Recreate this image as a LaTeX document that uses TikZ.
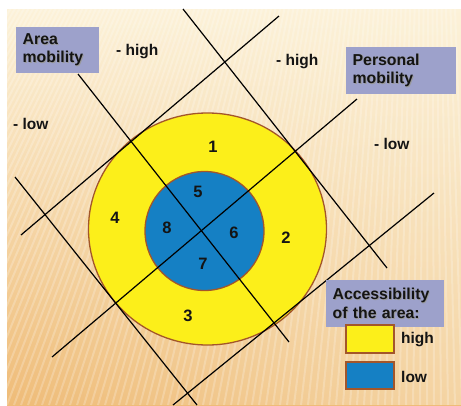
\documentclass[tikz,border=0pt]{standalone}
\usepackage{fontspec}
\setmainfont{Liberation Sans}
\usetikzlibrary{fadings}
\definecolor{bgtop}{HTML}{FCF2D9}
\definecolor{bgmid}{HTML}{F8DDAA}
\definecolor{bgbot}{HTML}{EFBC78}
\definecolor{ringyellow}{HTML}{FCEF1A}
\definecolor{coreblue}{HTML}{1580C4}
\definecolor{rimbrown}{HTML}{A3562A}
\definecolor{tagblue}{HTML}{9DA1CB}
\definecolor{inkdark}{HTML}{141414}
% text with a soft drop shadow
\newcommand\shad[1]{\leavevmode\rlap{\kern0.9pt\raisebox{-0.9pt}{\textcolor{black!40}{#1}}}#1}
\begin{document}
\begin{tikzpicture}[x=1pt,y=-1pt,
  txt/.style={font=\fontsize{15.5}{18.5}\selectfont\bfseries, text=inkdark, inner sep=0pt},
  tagbox/.style={fill=tagblue, anchor=north west, align=left, inner xsep=6.5pt,
    inner ysep=0pt, font=\fontsize{15.8}{18.5}\selectfont\bfseries, text=inkdark},
  axis/.style={black, line width=1.2pt},
  rim/.style={draw=rimbrown, line width=1.3pt},
  swatch/.style={draw=rimbrown, line width=2pt},
  num/.style={font=\fontsize{16.5}{18}\selectfont\bfseries, text=inkdark, inner sep=0pt}]
\useasboundingbox (0,0) rectangle (461,405);
\fill[white] (0,0) rectangle (461,405);

% striped warm background, lighter towards the right
\shade[top color=bgtop, middle color=bgmid, bottom color=bgbot] (7,9) rectangle (461,405);
\fill[bgtop, opacity=0.45, path fading=west] (7,9) rectangle (461,405);
\begin{scope}
  \clip (7,9) rectangle (461,405);
  \foreach \s in {-420,-413,...,470}
    \draw[white, opacity=0.22, line width=2pt] (430,-700) -- (\s,405);
\end{scope}

% accessibility rings
\filldraw[rim, fill=ringyellow] (207.5,229) ellipse [x radius=119, y radius=116];
\filldraw[rim, fill=coreblue] (204.5,231) circle [radius=59.5];

% mobility axes and their tangents
\coordinate (a1) at (78,74);   \coordinate (a2) at (289,342);
\coordinate (b1) at (357,99);  \coordinate (b2) at (52,357);
\coordinate (c1) at (183,9);   \coordinate (c2) at (387,268);
\coordinate (d1) at (15,177);  \coordinate (d2) at (197,405);
\coordinate (e1) at (279,16);  \coordinate (e2) at (21,235);
\coordinate (f1) at (434,193); \coordinate (f2) at (173,405);
\draw[axis] (a1) -- (a2);
\draw[axis] (b1) -- (b2);
\draw[axis] (c1) -- (c2);
\draw[axis] (d1) -- (d2);
\draw[axis] (e1) -- (e2);
\draw[axis] (f1) -- (f2);

% sector numbers
\node[num] (n1) at (213,147) {1};
\node[num] (n2) at (286,238) {2};
\node[num] (n3) at (188,316) {3};
\node[num] (n4) at (115,218) {4};
\node[num] (n5) at (198,192) {5};
\node[num] (n6) at (234,233) {6};
\node[num] (n7) at (203,264) {7};
\node[num] (n8) at (167,228) {8};

% axis titles
\node[tagbox, minimum width=83pt, minimum height=46pt, text width=70pt] (area) at (16,27)
  {\shad{Area}\\\shad{mobility}};
\node[tagbox, minimum width=110pt, minimum height=47pt, text width=97pt] (pers) at (346,47)
  {\shad{Personal}\\\shad{mobility}};

% axis ends
\node[txt, anchor=west] (hiA) at (116,52) {- high};
\node[txt, anchor=west] (hiP) at (276,62) {- high};
\node[txt, anchor=west] (loA) at (13,124) {- low};
\node[txt, anchor=west] (loP) at (374,144) {- low};

% legend
\node[tagbox, minimum width=118pt, minimum height=47pt, text width=105pt] (acc) at (326,280)
  {\shad{Accessibility}\\\shad{of the area:}};
\filldraw[swatch, fill=ringyellow] (346,325) rectangle (394,353);
\filldraw[swatch, fill=coreblue] (346,362) rectangle (394,389);
\node[txt, anchor=west] (lhigh) at (401,340) {high};
\node[txt, anchor=west] (llow) at (401,377) {low};
\end{tikzpicture}
\end{document}
